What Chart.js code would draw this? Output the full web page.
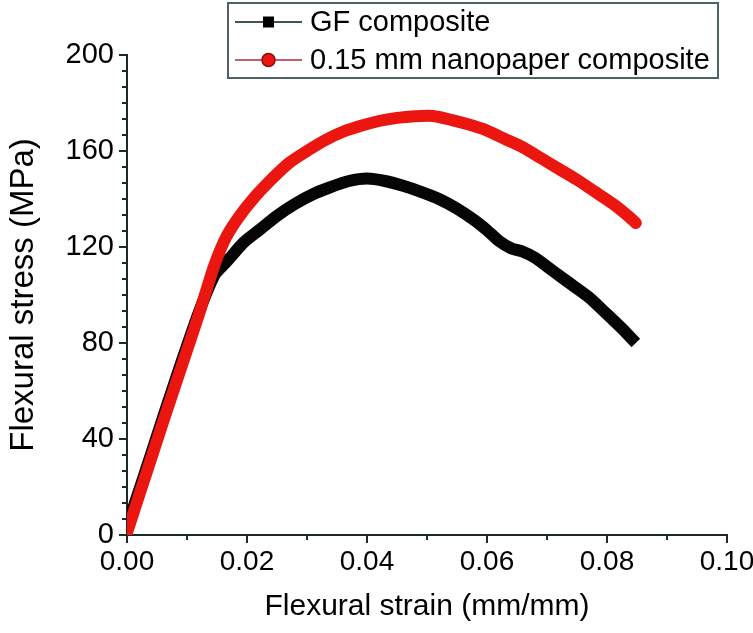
<!DOCTYPE html>
<html>
<head>
<meta charset="utf-8">
<script src="https://cdn.jsdelivr.net/npm/chart.js@4.4.1/dist/chart.umd.min.js"></script>
<style>
  html, body { margin: 0; padding: 0; background: #fff; }
  #wrap { width: 753px; height: 633px; }
</style>
</head>
<body>
<div id="wrap"><canvas id="chart" width="753" height="633"></canvas></div>
<script>
// GF composite curve
const gfStrain = [0, 0.003, 0.006, 0.009, 0.012, 0.0145, 0.0155, 0.017, 0.0195, 0.022, 0.025, 0.028, 0.031, 0.034, 0.037, 0.040, 0.043, 0.046, 0.049, 0.052, 0.055, 0.058, 0.060, 0.062, 0.064, 0.066, 0.068, 0.071, 0.074, 0.077, 0.080, 0.0825, 0.0848];
const gfStress = [3.5, 26, 49, 71.5, 93, 108, 111, 115, 122, 127, 133, 138, 142, 145, 147.5, 148.5, 147.5, 145.5, 143, 140, 136, 131, 127, 122.5, 119.5, 118, 115.5, 110, 104.5, 99, 92, 86, 80];

// 0.15 mm nanopaper composite curve
const npStrain = [0, 0.003, 0.006, 0.009, 0.012, 0.0145, 0.0165, 0.0185, 0.021, 0.024, 0.027, 0.030, 0.033, 0.036, 0.039, 0.042, 0.045, 0.048, 0.051, 0.054, 0.057, 0.060, 0.063, 0.066, 0.069, 0.072, 0.075, 0.078, 0.081, 0.0835, 0.0848];
const npStress = [1, 24, 47, 69.5, 92, 112, 124, 132, 140, 148, 155, 160, 164.5, 168, 170.5, 172.5, 173.8, 174.5, 174.6, 173, 171, 168.5, 165, 161.5, 157, 152.5, 148, 143, 138, 133, 130];

const seriesNames = ["GF composite", "0.15 mm nanopaper composite"];
const xTicks = [0, 0.02, 0.04, 0.06, 0.08, 0.10];
const yTicks = [0, 40, 80, 120, 160, 200];

const FONT = "'Liberation Sans', Arial, sans-serif";
const AXIS = "#1e2a2a";

const pts = (xs, ys) => xs.map((x, i) => ({ x, y: ys[i] }));

// minor + major ticks, pointing outward
const tickMarks = {
  id: "tickMarks",
  afterDraw(chart) {
    const { ctx, scales: { x, y } } = chart;
    ctx.save();
    ctx.strokeStyle = AXIS;
    ctx.lineWidth = 2;
    for (let i = 0; i <= 10; i++) {
      const px = x.getPixelForValue(i * 0.01);
      const len = i % 2 === 0 ? 8 : 5;
      ctx.beginPath();
      ctx.moveTo(px, y.bottom);
      ctx.lineTo(px, y.bottom + len);
      ctx.stroke();
    }
    for (let i = 0; i <= 30; i++) {
      const py = y.getPixelForValue(i * 40 / 6);
      const len = i % 6 === 0 ? 8 : 5;
      ctx.beginPath();
      ctx.moveTo(x.left, py);
      ctx.lineTo(x.left - len, py);
      ctx.stroke();
    }
    ctx.restore();
  }
};

// framed legend, line + marker style
const boxLegend = {
  id: "boxLegend",
  afterDraw(chart) {
    const ctx = chart.ctx;
    ctx.save();
    ctx.strokeStyle = "#4d6262";
    ctx.lineWidth = 2;
    ctx.strokeRect(228, 3, 490, 75);
    const rows = [22, 60];
    ctx.font = "29px " + FONT;
    ctx.textBaseline = "middle";
    rows.forEach((ry, i) => {
      ctx.beginPath();
      ctx.lineWidth = 2;
      ctx.strokeStyle = i === 0 ? "#3e5656" : "#c2606e";
      ctx.moveTo(235, ry);
      ctx.lineTo(302, ry);
      ctx.stroke();
      if (i === 0) {
        ctx.fillStyle = "#000";
        ctx.fillRect(263, ry - 5.5, 11, 11);
      } else {
        ctx.beginPath();
        ctx.arc(268.5, ry, 6.5, 0, Math.PI * 2);
        ctx.fillStyle = "#ee1410";
        ctx.fill();
        ctx.lineWidth = 1.5;
        ctx.strokeStyle = "#8a1010";
        ctx.stroke();
      }
      ctx.fillStyle = "#000";
      ctx.fillText(seriesNames[i], 310, ry + 1);
    });
    ctx.restore();
  }
};

new Chart(document.getElementById("chart"), {
  type: "scatter",
  data: {
    datasets: [
      {
        label: seriesNames[1],
        data: pts(npStrain, npStress),
        showLine: true,
        borderColor: "#ec1611",
        borderWidth: 12,
        borderCapStyle: "round",
        borderJoinStyle: "round",
        pointRadius: 0,
        tension: 0.25,
        order: 0
      },
      {
        label: seriesNames[0],
        data: pts(gfStrain, gfStress),
        showLine: true,
        borderColor: "#050505",
        borderWidth: 12,
        borderCapStyle: "butt",
        borderJoinStyle: "round",
        pointRadius: 0,
        tension: 0.25,
        order: 1
      }
    ]
  },
  options: {
    responsive: false,
    animation: false,
    layout: { padding: { top: 55, right: 26, bottom: 0, left: 0 } },
    plugins: { legend: { display: false }, tooltip: { enabled: false } },
    scales: {
      x: {
        type: "linear",
        min: 0,
        max: 0.1,
        afterBuildTicks: s => { s.ticks = xTicks.map(v => ({ value: v })); },
        afterFit: s => { s.height = 98; s.paddingLeft = 0; s.paddingRight = 0; },
        grid: { display: false, drawTicks: false },
        border: { display: true, color: AXIS, width: 2 },
        ticks: {
          padding: 10,
          color: "#000",
          font: { family: FONT, size: 28 },
          maxRotation: 0,
          callback: v => Number(v).toFixed(2)
        },
        title: {
          display: true,
          text: "Flexural strain (mm/mm)",
          color: "#000",
          font: { family: FONT, size: 30 },
          padding: { top: 0, bottom: 8 }
        }
      },
      y: {
        type: "linear",
        min: 0,
        max: 200,
        afterBuildTicks: s => { s.ticks = yTicks.map(v => ({ value: v })); },
        afterFit: s => { s.width = 127; s.paddingTop = 0; s.paddingBottom = 0; },
        grid: { display: false, drawTicks: false },
        border: { display: true, color: AXIS, width: 2 },
        ticks: {
          padding: 13,
          color: "#000",
          font: { family: FONT, size: 29 },
          callback: v => String(v)
        },
        title: {
          display: true,
          text: "Flexural stress (MPa)",
          color: "#000",
          font: { family: FONT, size: 33 },
          padding: { top: 4, bottom: 0 }
        }
      }
    }
  },
  plugins: [tickMarks, boxLegend]
});
</script>
</body>
</html>
